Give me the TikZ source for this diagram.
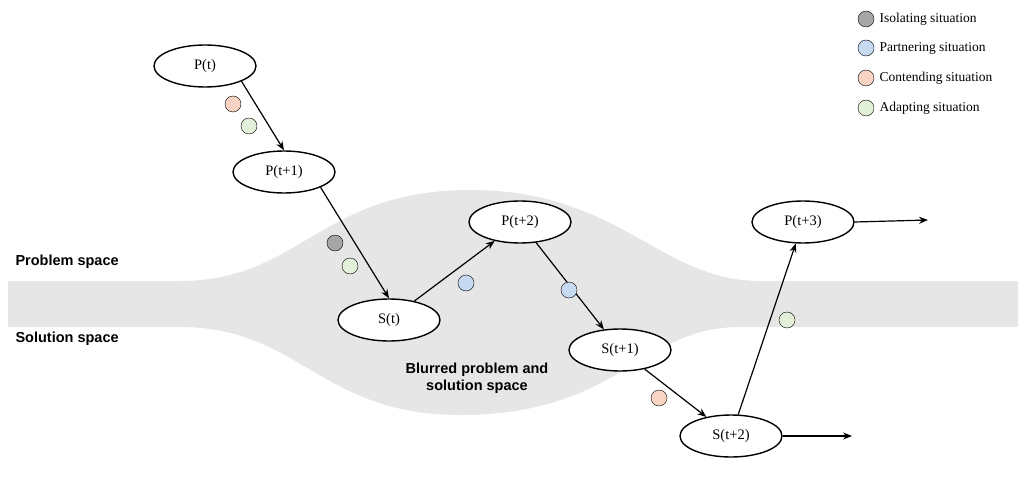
\documentclass[tikz,border=0pt]{standalone}
\usepackage{fontspec}
\setmainfont{Liberation Serif}
\newfontfamily\arialb{Liberation Sans}
\usetikzlibrary{shapes.geometric,arrows.meta}
\definecolor{bandgray}{HTML}{E6E6E6}
\definecolor{cIso}{HTML}{A6A6A6}
\definecolor{cPar}{HTML}{C6DBF1}
\definecolor{cCon}{HTML}{F9D3C3}
\definecolor{cAda}{HTML}{E2F0D9}
\begin{document}
\begin{tikzpicture}[x=1pt,y=-1pt,
  st/.style={ellipse,draw,line width=1.4pt,fill=white,minimum width=102pt,minimum height=42pt,font=\fontsize{14.5}{16}\selectfont},
  ar/.style={-{Stealth[length=9pt,width=7pt]},line width=1.2pt},
  dot/.style={circle,draw,minimum size=16pt,inner sep=0pt},
  lbl/.style={font=\arialb\bfseries\fontsize{14.5}{17}\selectfont},
  leg/.style={anchor=west,font=\fontsize{13.5}{15}\selectfont}]
\useasboundingbox (0,0) rectangle (1024,481);
\fill[bandgray] (8,281) -- (180,281) .. controls (300,281) and (320,190) .. (470,190) .. controls (620,190) and (660,281) .. (760,281) -- (1018,281) -- (1018,327) -- (740,327) .. controls (640,327) and (620,415) .. (460,415) .. controls (320,415) and (300,327) .. (180,327) -- (8,327) -- cycle;
\node[lbl,anchor=west] (ps) at (12,262) {Problem space};
\node[lbl,anchor=west] (ss) at (12,339) {Solution space};
\node[lbl,align=center] (bl) at (477,378) {Blurred problem and\\solution space};
\node[st] (p0) at (205,66) {P(t)};
\node[st] (p1) at (284,172) {P(t+1)};
\node[st] (s0) at (389,320) {S(t)};
\node[st] (p2) at (520,222) {P(t+2)};
\node[st] (s1) at (620,350) {S(t+1)};
\node[st] (s2) at (731,436) {S(t+2)};
\node[st] (p3) at (803,222) {P(t+3)};
\coordinate (e1) at (928,220);
\coordinate (e2) at (852,436);
\draw[ar] (p0.south east) -- (p1.north);
\draw[ar] (p1.south east) -- (s0.north);
\draw[ar] (s0) -- (p2);
\draw[ar] (p2) -- (s1);
\draw[ar] (s1) -- (s2);
\draw[ar] (s2) -- (p3);
\draw[ar] (p3.east) -- (e1);
\draw[ar] (s2.east) -- (e2);
\node[dot,fill=cCon] (d1) at (233,104) {};
\node[dot,fill=cAda] (d2) at (249,126) {};
\node[dot,fill=cIso] (d3) at (335,243) {};
\node[dot,fill=cAda] (d4) at (350,266) {};
\node[dot,fill=cPar] (d5) at (466,283) {};
\node[dot,fill=cPar] (d6) at (569,290) {};
\node[dot,fill=cCon] (d7) at (659,398) {};
\node[dot,fill=cAda] (d8) at (787,320) {};
\node[dot,fill=cIso] (l1) at (866,19) {};
\node[dot,fill=cPar] (l2) at (866,48) {};
\node[dot,fill=cCon] (l3) at (866,78) {};
\node[dot,fill=cAda] (l4) at (866,108) {};
\node[leg] (t1) at (876,19) {Isolating situation};
\node[leg] (t2) at (876,48) {Partnering situation};
\node[leg] (t3) at (876,78) {Contending situation};
\node[leg] (t4) at (876,108) {Adapting situation};
\end{tikzpicture}
\end{document}
